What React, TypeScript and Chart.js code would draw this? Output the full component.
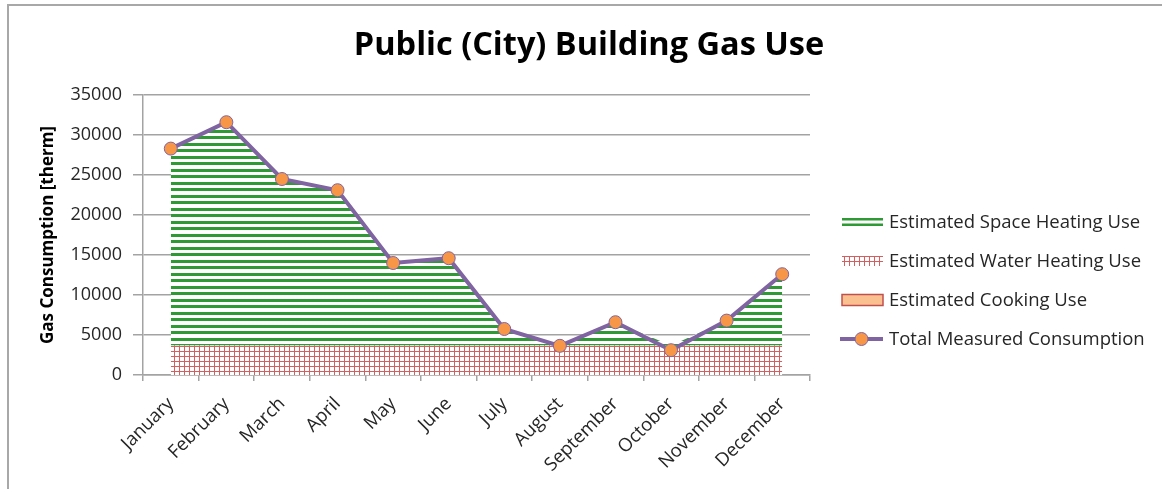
import React, { useEffect, useRef } from 'react';
import { Chart, registerables } from 'chart.js';

Chart.register(...registerables);

// ---------- data ----------
const months = [
  'January', 'February', 'March', 'April', 'May', 'June',
  'July', 'August', 'September', 'October', 'November', 'December',
];
const totalMeasured = [28300, 31600, 24500, 23100, 14000, 14600, 5750, 3650, 6600, 3100, 6800, 12600];
const waterHeating = [3700, 3700, 3700, 3700, 3700, 3700, 3700, 3700, 3700, 3700, 3700, 3700];
const cookingUse = [0, 0, 0, 0, 0, 0, 0, 0, 0, 0, 0, 0];
const spaceHeating = [24600, 27900, 20800, 19400, 10300, 10900, 2050, 0, 2900, 0, 3100, 8900];
const yMin = 0;
const yMax = 35000;
const yStep = 5000;

const titleText = 'Public (City) Building Gas Use';
const yTitleText = 'Gas Consumption [therm]';
const labelSpace = 'Estimated Space Heating Use';
const labelWater = 'Estimated Water Heating Use';
const labelCooking = 'Estimated Cooking Use';
const labelTotal = 'Total Measured Consumption';

// ---------- styles ----------
const FONT = '"Open Sans", Lato, "DejaVu Sans", sans-serif';
const GREEN = '#2f9a35';
const RED = '#d35f5f';
const PURPLE = '#8064a2';
const ORANGE = '#f79646';
const COOK_FILL = '#fac090';
const COOK_BORDER = '#c0504d';
const GRID = '#a3a3a3';
const TEXT = '#262626';

function makeStripePattern(ctx: CanvasRenderingContext2D): CanvasPattern {
  const c = document.createElement('canvas');
  c.width = 4;
  c.height = 13;
  const g = c.getContext('2d')!;
  g.fillStyle = '#ffffff';
  g.fillRect(0, 0, 4, 13);
  g.fillStyle = GREEN;
  g.fillRect(0, 0, 4, 3);
  g.fillRect(0, 7, 4, 3);
  return ctx.createPattern(c, 'repeat')!;
}

function makeGridPattern(ctx: CanvasRenderingContext2D): CanvasPattern {
  const c = document.createElement('canvas');
  c.width = 5;
  c.height = 5;
  const g = c.getContext('2d')!;
  g.fillStyle = '#ffffff';
  g.fillRect(0, 0, 5, 5);
  g.fillStyle = RED;
  g.fillRect(0, 0, 1, 5);
  g.fillRect(0, 0, 5, 1);
  return ctx.createPattern(c, 'repeat')!;
}

const sideLegend = {
  id: 'sideLegend',
  afterDraw(chart: any) {
    const ctx: CanvasRenderingContext2D = chart.ctx;
    const area = chart.chartArea;
    const x0 = area.right + 32;
    const w = 41;
    const y0 = area.top + 127;
    const gap = 39;
    const grid = makeGridPattern(ctx);
    const items = [labelSpace, labelWater, labelCooking, labelTotal];
    ctx.save();
    items.forEach((label, i) => {
      const y = y0 + i * gap;
      if (i === 0) {
        ctx.fillStyle = GREEN;
        ctx.fillRect(x0, y - 4, w, 2.5);
        ctx.fillRect(x0, y + 1.5, w, 2.5);
      } else if (i === 1) {
        ctx.fillStyle = grid;
        ctx.fillRect(x0, y - 5, w, 10);
      } else if (i === 2) {
        ctx.fillStyle = COOK_FILL;
        ctx.fillRect(x0, y - 5.5, w, 11);
        ctx.strokeStyle = COOK_BORDER;
        ctx.lineWidth = 1.5;
        ctx.strokeRect(x0, y - 5.5, w, 11);
      } else {
        ctx.strokeStyle = PURPLE;
        ctx.lineWidth = 4;
        ctx.beginPath();
        ctx.moveTo(x0 - 2, y);
        ctx.lineTo(x0 + w, y);
        ctx.stroke();
        ctx.beginPath();
        ctx.arc(x0 + w / 2 - 1, y, 6.5, 0, Math.PI * 2);
        ctx.fillStyle = ORANGE;
        ctx.fill();
        ctx.lineWidth = 1;
        ctx.stroke();
      }
      ctx.fillStyle = TEXT;
      ctx.font = `18.5px ${FONT}`;
      ctx.textAlign = 'left';
      ctx.textBaseline = 'middle';
      ctx.fillText(label, x0 + w + 6, y + 1);
    });
    ctx.restore();
  },
};

export default function App() {
  const ref = useRef<HTMLCanvasElement | null>(null);

  useEffect(() => {
    const canvas = ref.current;
    if (!canvas) return;
    const ctx = canvas.getContext('2d')!;
    const stripes = makeStripePattern(ctx);
    const grid = makeGridPattern(ctx);

    const chart = new Chart(canvas, {
      type: 'line',
      data: {
        labels: months,
        datasets: [
          {
            label: labelTotal,
            data: totalMeasured,
            stack: 'total',
            borderColor: PURPLE,
            borderWidth: 4,
            pointRadius: 6.5,
            pointBackgroundColor: ORANGE,
            pointBorderColor: PURPLE,
            pointBorderWidth: 1,
            fill: false,
            tension: 0,
          },
          {
            label: labelWater,
            data: waterHeating,
            stack: 'est',
            backgroundColor: grid,
            borderColor: 'rgba(0,0,0,0)',
            borderWidth: 0,
            pointRadius: 0,
            fill: 'origin',
          },
          {
            label: labelCooking,
            data: cookingUse,
            stack: 'est',
            backgroundColor: COOK_FILL,
            borderColor: 'rgba(0,0,0,0)',
            borderWidth: 0,
            pointRadius: 0,
            fill: '-1',
          },
          {
            label: labelSpace,
            data: spaceHeating,
            stack: 'est',
            backgroundColor: stripes,
            borderColor: 'rgba(0,0,0,0)',
            borderWidth: 0,
            pointRadius: 0,
            fill: '-1',
          },
        ],
      },
      options: {
        responsive: false,
        animation: false,
        events: [],
        layout: { padding: 0 },
        plugins: {
          legend: { display: false },
          tooltip: { enabled: false },
          title: {
            display: true,
            text: titleText,
            color: '#000000',
            font: { family: FONT, size: 32.5, weight: 'bold' },
            padding: { top: 20, bottom: 30 },
          },
        },
        scales: {
          x: {
            type: 'category',
            offset: true,
            grid: {
              offset: true,
              drawOnChartArea: false,
              drawTicks: true,
              tickLength: 6,
              color: GRID,
              lineWidth: 1.5,
            },
            border: { color: GRID, width: 1.5 },
            ticks: {
              autoSkip: false,
              minRotation: 45,
              maxRotation: 45,
              font: { family: FONT, size: 18.5 },
              color: TEXT,
              padding: 12,
            },
            afterFit: (s: any) => {
              s.height = 114;
            },
          },
          y: {
            stacked: true,
            min: yMin,
            max: yMax,
            ticks: {
              stepSize: yStep,
              font: { family: FONT, size: 18 },
              color: TEXT,
              padding: 11,
              callback: (v: any) => String(v),
            },
            grid: { color: GRID, lineWidth: 1.5, tickLength: 10 },
            border: { color: GRID, width: 1.5 },
            title: {
              display: true,
              text: yTitleText,
              color: '#000000',
              font: { family: FONT, size: 17, weight: 'bold' },
              padding: { top: 29, bottom: 0 },
            },
            afterFit: (s: any) => {
              s.width = 134;
            },
          },
          spacer: {
            type: 'linear',
            position: 'right',
            display: true,
            grid: { display: false, drawTicks: false },
            ticks: { display: false },
            border: { display: false },
            afterFit: (s: any) => {
              s.width = 359;
            },
          },
        },
      } as any,
      plugins: [sideLegend],
    });

    return () => {
      chart.destroy();
    };
  }, []);

  return (
    <div
      style={{
        position: 'fixed',
        left: 7,
        top: 4,
        width: 1170,
        height: 500,
        borderLeft: '2px solid #a8a8a8',
        borderTop: '2px solid #a8a8a8',
        background: '#ffffff',
        overflow: 'hidden',
      }}
    >
      <canvas ref={ref} width={1160} height={483} style={{ display: 'block', width: 1160, height: 483 }} />
    </div>
  );
}
